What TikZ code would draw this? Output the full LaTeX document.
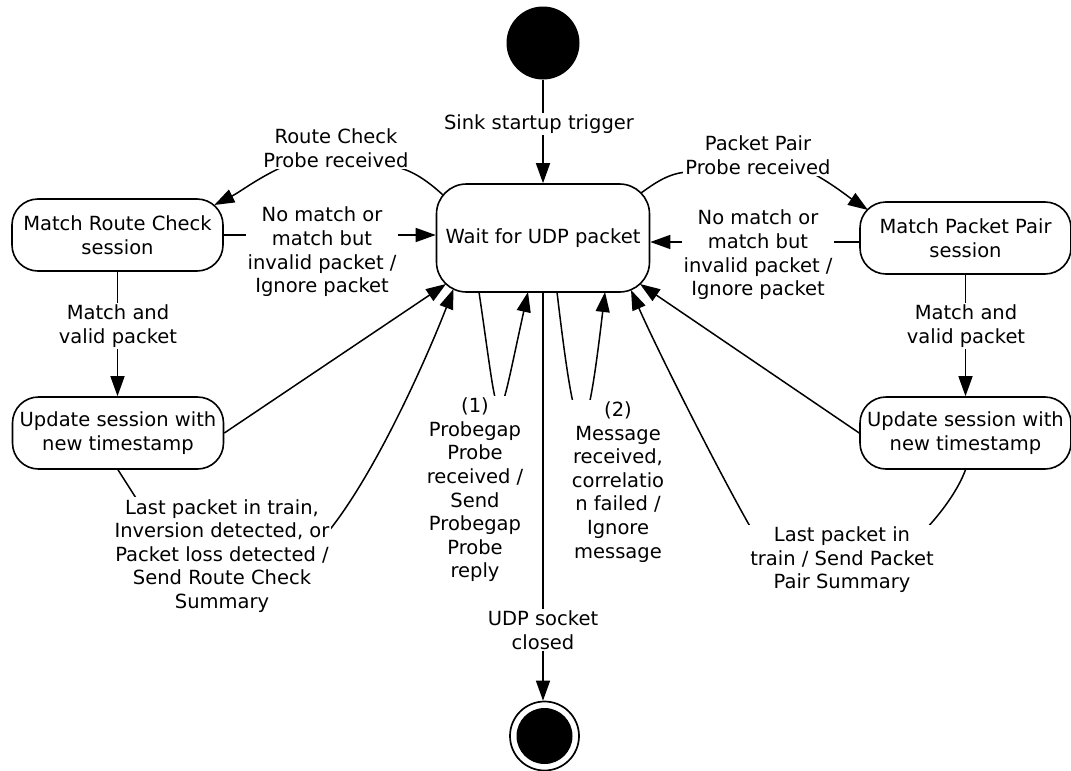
\documentclass[tikz,border=0pt]{standalone}
\usepackage{fontspec}
\setmainfont{DejaVu Sans}
\usetikzlibrary{arrows.meta,calc}
\begin{document}
\begin{tikzpicture}[x=1pt,y=-1pt,
  every node/.style={font=\fontsize{19.5}{23.6}\selectfont},
  state/.style={draw, line width=1.6pt, rounded corners=26pt, minimum width=211pt, minimum height=72pt, align=center, inner sep=0pt},
  lbl/.style={fill=white, align=center, inner sep=2pt},
  conn/.style={line width=1.5pt, -{Triangle[length=20pt,width=14pt]}}]
\useasboundingbox (0,0) rectangle (1071,771);
% states
\node[circle, fill=black, minimum size=73pt, inner sep=0pt] (init) at (543,43) {};
\node[state, minimum width=213pt, minimum height=108pt, rounded corners=30pt] (w) at (543,238) {Wait for UDP packet};
\node[state] (mrc) at (117.5,235) {Match Route Check\\session};
\node[state] (mpp) at (965.5,238) {Match Packet Pair\\session};
\node[state] (ul) at (118,433) {Update session with\\new timestamp};
\node[state] (ur) at (965.5,433) {Update session with\\new timestamp};
\node[circle, draw, line width=1.7pt, minimum size=69pt, inner sep=0pt] (fin) at (544.5,736) {};
\node[circle, fill=black, minimum size=56pt, inner sep=0pt] (fincore) at (fin.center) {};
% connectors
\draw[conn] (init) -- (w);
\draw[conn] ($(w.center)+(-100,-43)$) .. controls (430,183) and (415,172) .. (400,168) -- (280,168) .. controls (255,180) and (240,192) .. ($(mrc.center)+(96.8,-30)$);
\draw[conn] (mrc.east) -- (mrc.east -| w.west);
\draw[conn] ($(w.center)+(98,-45)$) .. controls (655,183) and (670,172) .. (690,172) -- (810,172) .. controls (830,182) and (850,198) .. ($(mpp.center)+(-97.5,-28)$);
\coordinate (m5) at ($(mpp.west)+(0,4)$);
\draw[conn] (m5) -- (m5 -| w.east);
\draw[conn] (mrc.south) -- (mrc.south |- ul.north);
\draw[conn] (mpp.south) -- (mpp.south |- ur.north);
\draw[conn] (ul.east) -- ($(w.center)+(-97,46)$);
\draw[conn] (ur.west) -- ($(w.center)+(97,46)$);
\draw[conn] (ul.south) -- (150,520) -- (328,532) .. controls (378,470) and (430,350) .. ($(w.center)+(-89.5,51)$);
\draw[conn] (ur.south) .. controls (958,490) and (942,512) .. (925,530) -- (752,530) .. controls (715,465) and (655,345) .. ($(w.center)+(88,52)$);
\draw[conn] ($(w.center)+(-64,54)$) .. controls (501,442) and (495,442) .. ($(w.center)+(-15,54)$);
\draw[conn] ($(w.center)+(14,54)$) .. controls (577,462) and (585,462) .. ($(w.center)+(62,54)$);
\draw[conn] (w.south) -- (w.south |- fin.north);
% labels
\node[lbl] (l0) at (539,124) {Sink startup trigger};
\node[lbl] (l2) at (336,148) {Route Check\\Probe received};
\node[lbl] (l3) at (322,252) {No match or\\match but\\invalid packet /\\Ignore packet};
\node[lbl] (l4) at (758,155) {Packet Pair\\Probe received};
\node[lbl] (l5) at (758,255) {No match or\\match but\\invalid packet /\\Ignore packet};
\node[lbl] (l6) at (118,326) {Match and\\valid packet};
\node[lbl] (l7) at (966,326) {Match and\\valid packet};
\node[lbl] (l9) at (222,556) {Last packet in train,\\Inversion detected, or\\Packet loss detected /\\Send Route Check\\Summary};
\node[lbl] (l10) at (475,490) {(1)\\Probegap\\Probe\\received /\\Send\\Probegap\\Probe\\reply};
\node[lbl] (l11) at (543,630) {UDP socket\\closed};
\node[lbl] (l12) at (618,482) {(2)\\Message\\received,\\correlatio\\n failed /\\Ignore\\message};
\node[lbl] (l14) at (842,560) {Last packet in\\train / Send Packet\\Pair Summary};
\end{tikzpicture}
\end{document}
